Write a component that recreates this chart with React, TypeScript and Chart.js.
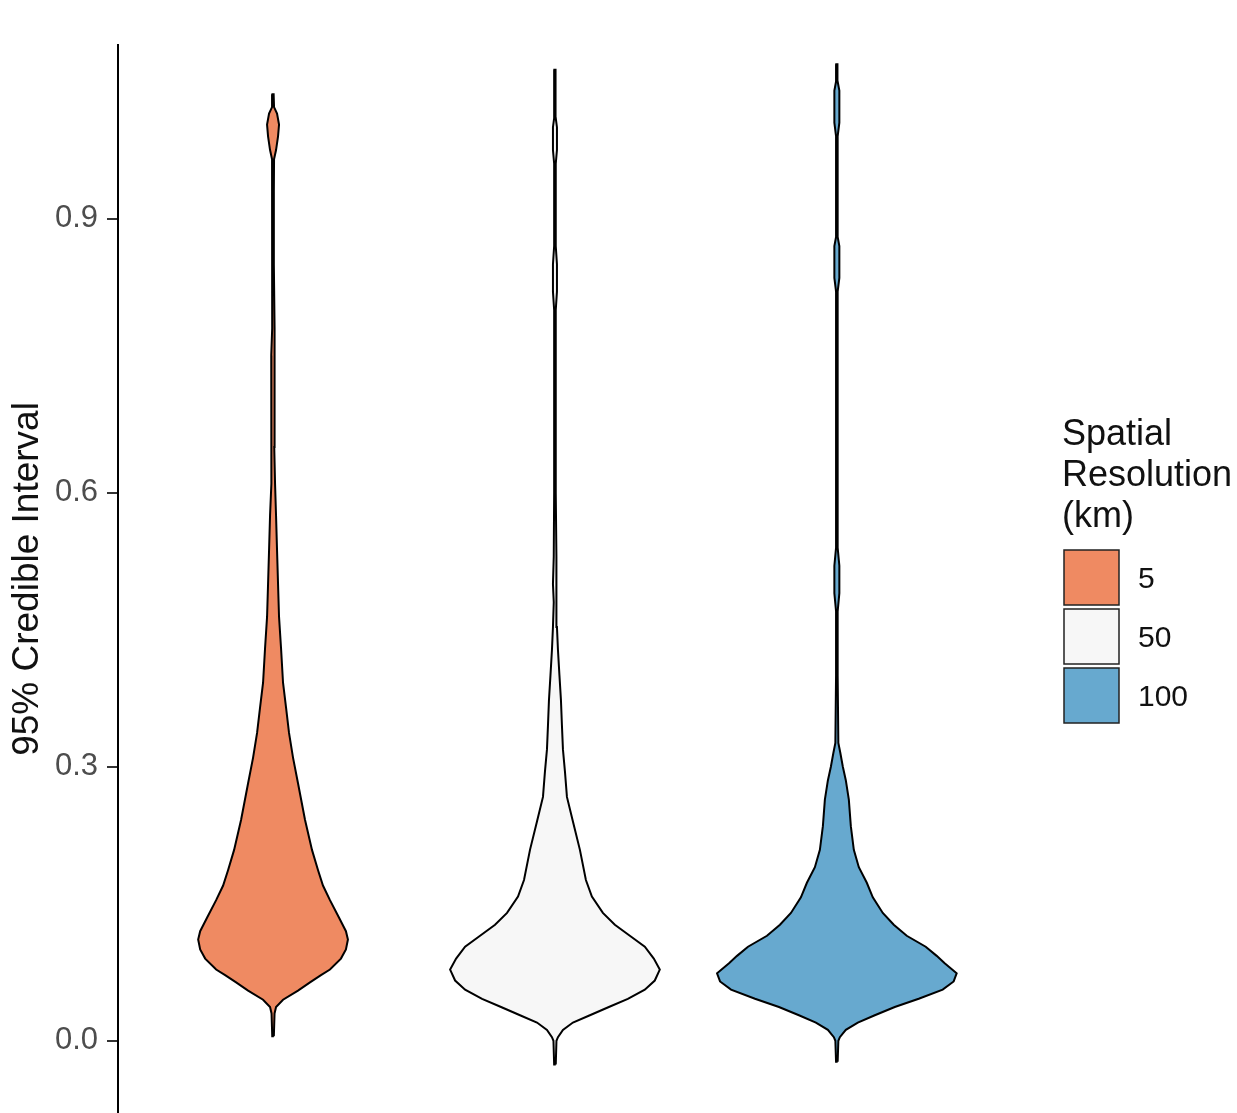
import React, { useEffect, useRef } from "react";
import { Chart, registerables } from "chart.js";

Chart.register(...registerables);

// Categories (spatial resolution, km) and their positions on the x axis
const categories = ["5", "50", "100"];
const positions = [1, 2, 3];
const fillColors = ["#EF8A62", "#F7F7F7", "#67A9CF"];

// y-axis ticks
const yTicks = [0.0, 0.3, 0.6, 0.9];

// Violin profiles: y level and relative density (max of all violins = 120)
const levels5 = [0.005, 0.03, 0.037, 0.045, 0.055, 0.064, 0.072, 0.078, 0.09, 0.1, 0.111, 0.12, 0.135, 0.154, 0.17, 0.187, 0.209, 0.242, 0.282, 0.31, 0.337, 0.365, 0.392, 0.43, 0.464, 0.5, 0.537, 0.575, 0.61, 0.65, 0.68, 0.75, 0.78, 0.85, 0.93, 0.965, 0.975, 0.99, 1.003, 1.015, 1.022, 1.036];
const density5 = [0.8, 1.5, 3, 10, 25, 37, 48, 57, 68, 73, 75, 73, 66, 57, 50, 45, 39, 32, 25, 20, 16, 13, 10, 8, 6, 5, 4, 3, 2, 1.2, 1.8, 1.8, 1, 0.8, 0.8, 1, 3, 5, 6, 4, 1, 0.6];

const levels50 = [-0.026, 0.0, 0.004, 0.012, 0.02, 0.028, 0.037, 0.046, 0.056, 0.066, 0.078, 0.09, 0.103, 0.115, 0.127, 0.14, 0.158, 0.176, 0.209, 0.24, 0.267, 0.295, 0.319, 0.345, 0.373, 0.4, 0.428, 0.453, 0.48, 0.5, 0.53, 0.6, 0.8, 0.82, 0.85, 0.87, 0.96, 0.975, 1.0, 1.01, 1.063];
const density50 = [0.8, 1.5, 3, 8, 18, 35, 54, 73, 90, 100, 105, 99, 90, 75, 60, 48, 37, 31, 25, 18, 12, 10, 8, 7, 6, 4.5, 3, 2, 1.2, 2, 1.2, 0.8, 0.8, 2, 2, 0.8, 0.8, 2, 2, 0.8, 0.6];

const levels100 = [-0.023, 0.0, 0.004, 0.012, 0.02, 0.028, 0.037, 0.046, 0.056, 0.065, 0.074, 0.085, 0.093, 0.103, 0.115, 0.127, 0.14, 0.157, 0.173, 0.19, 0.209, 0.235, 0.264, 0.285, 0.3, 0.315, 0.326, 0.4, 0.47, 0.49, 0.52, 0.54, 0.82, 0.835, 0.87, 0.88, 0.99, 1.005, 1.04, 1.05, 1.069];
const density100 = [0.8, 1.5, 3, 9, 21, 38, 58, 82, 106, 117, 120, 108, 100, 89, 70, 57, 46, 36, 30, 22, 17, 14, 12, 9, 6, 3.5, 1.5, 0.8, 0.8, 2.5, 2.5, 0.8, 0.8, 2.5, 2.5, 0.8, 0.8, 2.5, 2.5, 0.8, 0.6];

const allLevels = [levels5, levels50, levels100];
const allDensity = [density5, density50, density100];

const FONT = "'Liberation Sans', Arial, sans-serif";

function violinPoints(center: number, ys: number[], ds: number[], maxD: number) {
  const k = 0.425 / maxD;
  const right = ys.map((y, i) => ({ x: center + ds[i] * k, y }));
  const left = ys.map((y, i) => ({ x: center - ds[i] * k, y })).reverse();
  return [...right, ...left, right[0]];
}

const legendPlugin = {
  id: "violinLegend",
  afterDraw(chart: any) {
    const { ctx, chartArea } = chart;
    const x0 = chartArea.right + 56;
    ctx.save();
    ctx.fillStyle = "#111";
    ctx.font = `36px ${FONT}`;
    ctx.textAlign = "left";
    ctx.textBaseline = "alphabetic";
    const titleLines = ["Spatial", "Resolution", "(km)"];
    titleLines.forEach((t, i) => ctx.fillText(t, x0, 445 + i * 41));
    const boxTop = 550;
    const size = 55;
    const pitch = 59;
    categories.forEach((c, i) => {
      const y = boxTop + i * pitch;
      ctx.fillStyle = fillColors[i];
      ctx.fillRect(x0 + 2, y, size, size);
      ctx.strokeStyle = "#222";
      ctx.lineWidth = 1.5;
      ctx.strokeRect(x0 + 2, y, size, size);
      ctx.fillStyle = "#111";
      ctx.font = `30px ${FONT}`;
      ctx.textBaseline = "middle";
      ctx.fillText(c, x0 + 76, y + size / 2 + 2);
    });
    ctx.restore();
  },
};

export default function App() {
  const canvasRef = useRef<HTMLCanvasElement | null>(null);

  useEffect(() => {
    if (!canvasRef.current) return;
    const maxD = Math.max(...allDensity.map((d) => Math.max(...d)));
    const datasets = categories.map((c, i) => ({
      label: c,
      data: violinPoints(positions[i], allLevels[i], allDensity[i], maxD),
      borderColor: "#000",
      borderWidth: 2,
      backgroundColor: fillColors[i],
      fill: "shape" as any,
      pointRadius: 0,
      tension: 0,
    }));

    const chart = new Chart(canvasRef.current, {
      type: "line",
      data: { datasets },
      options: {
        animation: false,
        responsive: false,
        layout: { padding: { left: 0, top: 45, right: 231, bottom: 0 } },
        plugins: {
          legend: { display: false },
          tooltip: { enabled: false },
        },
        scales: {
          x: {
            type: "linear",
            display: false,
            min: 0.45,
            max: 3.6,
          },
          y: {
            type: "linear",
            min: -0.079,
            max: 1.09,
            afterFit: (s: any) => {
              s.width = 118;
              s.paddingTop = 0;
              s.paddingBottom = 0;
            },
            afterBuildTicks: (s: any) => {
              s.ticks = yTicks.map((v) => ({ value: v }));
            },
            border: { display: true, color: "#000", width: 2 },
            grid: {
              display: true,
              drawOnChartArea: false,
              drawTicks: true,
              tickLength: 11,
              color: "#333",
              lineWidth: 2,
            },
            ticks: {
              padding: 9,
              color: "#4d4d4d",
              font: { family: FONT, size: 31 },
              callback: (v: any) => Number(v).toFixed(1),
            },
            title: {
              display: true,
              text: "95% Credible Interval",
              color: "#111",
              font: { family: FONT, size: 37 },
              padding: { top: 6, bottom: 0 },
            },
          },
        },
      },
      plugins: [legendPlugin],
    });
    return () => chart.destroy();
  }, []);

  return (
    <div style={{ position: "absolute", left: 0, top: 0, width: 1237, height: 1113, background: "#fff" }}>
      <canvas ref={canvasRef} width={1237} height={1113} />
    </div>
  );
}
